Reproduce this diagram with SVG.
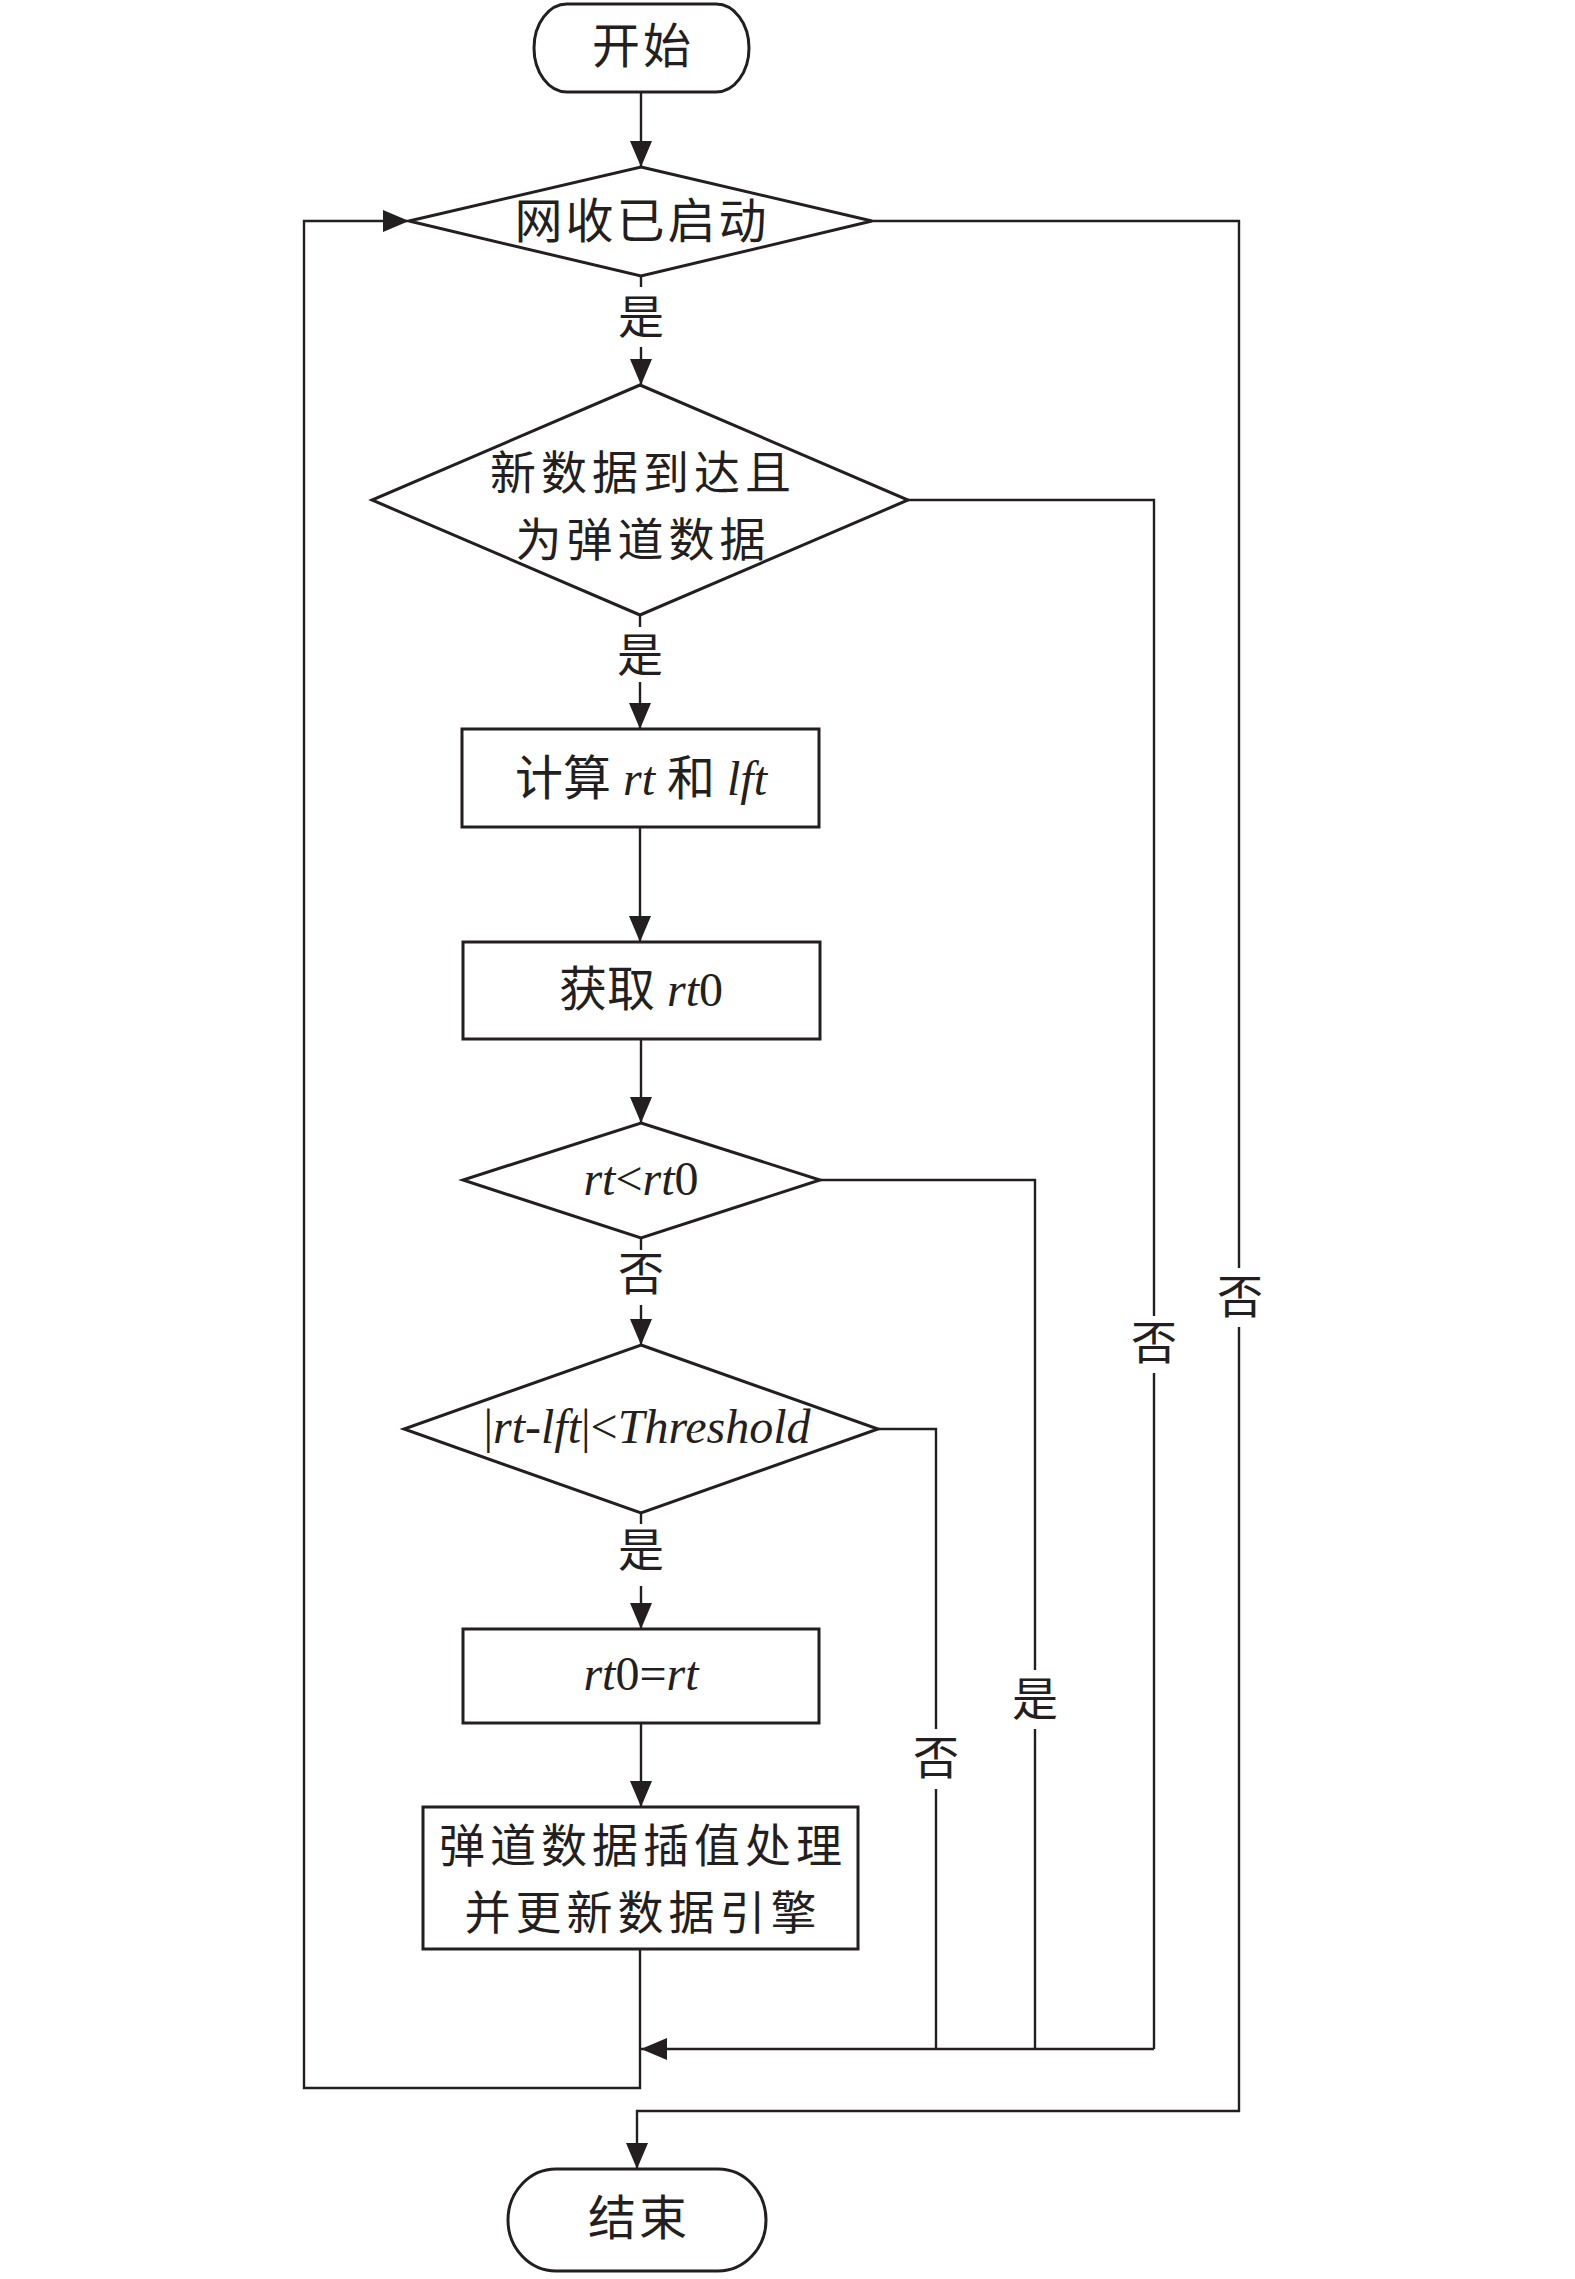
<svg xmlns="http://www.w3.org/2000/svg" width="1575" height="2279" viewBox="0 0 1575 2279">
<style>
.node{fill:#fff;stroke:#231f20;stroke-width:3}
.conn{fill:none;stroke:#231f20;stroke-width:2.4}
.cn{font-family:"Noto Sans CJK SC","Noto Sans",sans-serif;font-size:48px;fill:#231f20;text-anchor:middle;letter-spacing:3px}
.cn2{font-family:"Noto Sans CJK SC","Noto Sans",sans-serif;font-size:46px;fill:#231f20;text-anchor:middle;letter-spacing:5px}
.lb{font-family:"Noto Sans CJK SC","Noto Sans",sans-serif;font-size:46px;fill:#231f20;text-anchor:middle}
.it{font-family:"Liberation Serif","Times New Roman",serif;font-style:italic}
.ml{font-family:"Liberation Serif","Noto Sans CJK SC",serif;font-size:48px;fill:#231f20;text-anchor:middle}
</style>
<defs>
<marker id="arr" markerUnits="userSpaceOnUse" markerWidth="26" markerHeight="22" refX="26" refY="11" orient="auto">
<path d="M0,0 L26,11 L0,22 z" fill="#231f20"/>
</marker>
</defs>
<rect width="1575" height="2279" fill="#fff"/>

<g id="connectors">
<path class="conn" d="M641,92 V167" marker-end="url(#arr)"/>
<path class="conn" d="M641,276 V287"/>
<path class="conn" d="M641,347 V385" marker-end="url(#arr)"/>
<path class="conn" d="M640,615 V627"/>
<path class="conn" d="M640,682 V729" marker-end="url(#arr)"/>
<path class="conn" d="M640,827 V942" marker-end="url(#arr)"/>
<path class="conn" d="M641,1039 V1123" marker-end="url(#arr)"/>
<path class="conn" d="M641,1238 V1250"/>
<path class="conn" d="M641,1305 V1345" marker-end="url(#arr)"/>
<path class="conn" d="M641,1513 V1524"/>
<path class="conn" d="M641,1586 V1629" marker-end="url(#arr)"/>
<path class="conn" d="M641,1723 V1807" marker-end="url(#arr)"/>
<path class="conn" d="M640,1949 V2088 H304 V221 H409" marker-end="url(#arr)"/>
<path class="conn" d="M872,221 H1239 V1268"/>
<path class="conn" d="M1239,1327 V2111 H637 V2169" marker-end="url(#arr)"/>
<path class="conn" d="M908,500 H1154 V1316"/>
<path class="conn" d="M1154,1373 V2049"/>
<path class="conn" d="M820,1180 H1035 V1670"/>
<path class="conn" d="M1035,1729 V2049"/>
<path class="conn" d="M878,1429 H936 V1729"/>
<path class="conn" d="M936,1789 V2049"/>
<path class="conn" d="M1154,2049 H641" marker-end="url(#arr)"/>
<text class="lb" x="641" y="333">是</text>
<text class="lb" x="640" y="671">是</text>
<text class="lb" x="641" y="1290">否</text>
<text class="lb" x="641" y="1566">是</text>
<text class="lb" x="1240" y="1313">否</text>
<text class="lb" x="1154" y="1359">否</text>
<text class="lb" x="1035" y="1715">是</text>
<text class="lb" x="936" y="1774">否</text>
</g>

<g id="start">
<rect class="node" x="534" y="4" width="215" height="88" rx="33" ry="44"/>
<text class="cn" x="643" y="63">开始</text>
</g>

<g id="d1">
<polygon class="node" points="641,167 872,221 641,276 409,221"/>
<text class="cn" x="642" y="238">网收已启动</text>
</g>

<g id="d2">
<polygon class="node" points="640,385 908,500 640,615 372,500"/>
<text class="cn2" x="643" y="489">新数据到达且</text>
<text class="cn2" x="643" y="556">为弹道数据</text>
</g>

<g id="r1">
<rect class="node" x="462" y="729" width="357" height="98"/>
<text class="ml" x="641" y="795"><tspan font-family="Noto Sans CJK SC, sans-serif">计算</tspan><tspan class="it"> rt </tspan><tspan font-family="Noto Sans CJK SC, sans-serif">和</tspan><tspan class="it"> lft</tspan></text>
</g>

<g id="r2">
<rect class="node" x="463" y="942" width="357" height="97"/>
<text class="ml" x="641" y="1006"><tspan font-family="Noto Sans CJK SC, sans-serif">获取</tspan><tspan class="it"> rt</tspan>0</text>
</g>

<g id="d3">
<polygon class="node" points="641,1123 820,1180 641,1238 463,1180"/>
<text class="ml" x="641" y="1195"><tspan class="it">rt</tspan>&lt;<tspan class="it">rt</tspan>0</text>
</g>

<g id="d4">
<polygon class="node" points="641,1345 878,1429 641,1513 404,1429"/>
<text class="ml" x="647" y="1443">|<tspan class="it">rt-lft</tspan>|&lt;<tspan class="it">Threshold</tspan></text>
</g>

<g id="r3">
<rect class="node" x="463" y="1629" width="356" height="94"/>
<text class="ml" x="641" y="1690"><tspan class="it">rt</tspan>0=<tspan class="it">rt</tspan></text>
</g>

<g id="r4">
<rect class="node" x="423" y="1807" width="435" height="142"/>
<text class="cn2" x="643" y="1862">弹道数据插值处理</text>
<text class="cn2" x="643" y="1929">并更新数据引擎</text>
</g>

<g id="end">
<rect class="node" x="508" y="2169" width="258" height="102" rx="48" ry="51"/>
<text class="cn" x="639" y="2235">结束</text>
</g>
</svg>
